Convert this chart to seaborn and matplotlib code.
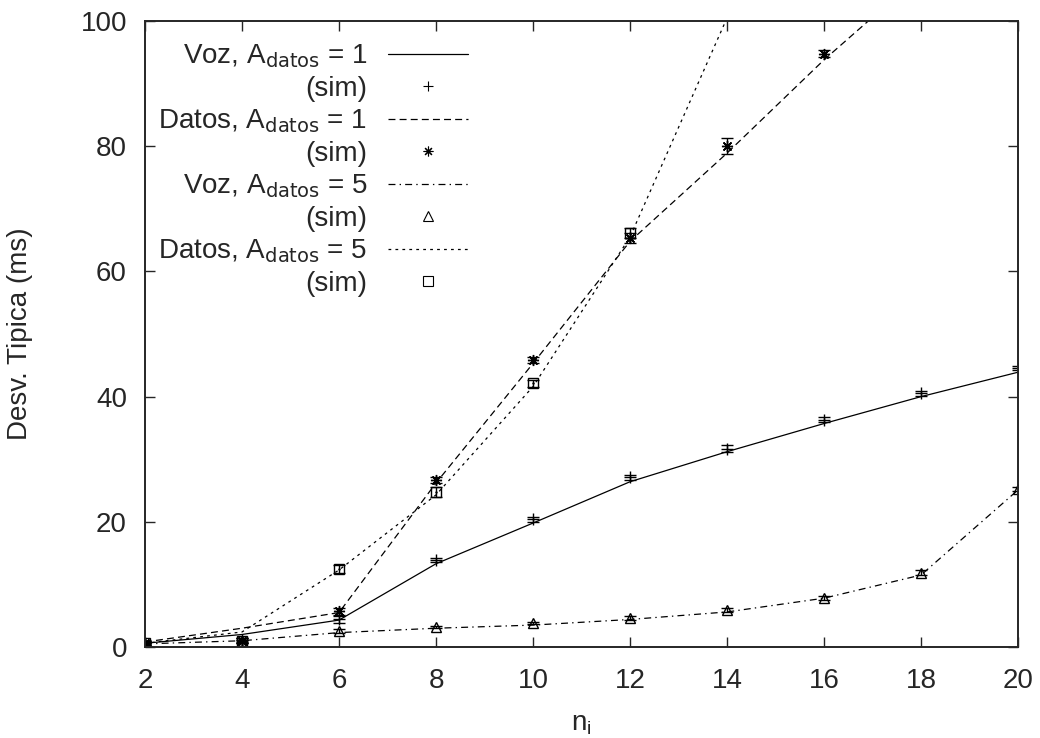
import matplotlib
matplotlib.use('Agg')  # no display
import matplotlib.pyplot as plt
from matplotlib.lines import Line2D
import seaborn as sns
import pandas as pd

# x values (number of users n_i)
n_i = [2, 4, 6, 8, 10, 12, 14, 16, 18, 20]

# model curves
voz_a1 = [0.6, 2.0, 4.3, 13.3, 19.8, 26.4, 31.2, 35.7, 40.0, 43.9]
datos_a1 = [0.8, 3.0, 5.5, 26.2, 45.3, 64.8, 78.9, 93.8, 107.4, 121.0]
voz_a5 = [0.5, 1.0, 2.3, 3.0, 3.5, 4.4, 5.6, 7.8, 11.5, 25.1]
datos_a5 = [0.6, 2.4, 12.3, 24.3, 41.6, 65.5, 100.5, 135.0, 170.0, 205.0]

# simulation points and error bars
sim_voz_a1 = [0.5, 1.1, 4.4, 13.9, 20.4, 27.1, 31.7, 36.3, 40.5, 44.6]
err_voz_a1 = [0.3, 0.3, 0.5, 0.3, 0.4, 0.4, 0.6, 0.4, 0.4, 0.3]
sim_datos_a1 = [0.7, 1.0, 5.7, 26.7, 45.8, 65.3, 80.0, 94.8]
err_datos_a1 = [0.3, 0.4, 0.6, 0.5, 0.5, 0.8, 1.3, 0.6]
sim_voz_a5 = [0.5, 0.9, 2.6, 3.2, 3.8, 4.6, 5.9, 7.8, 11.9, 25.2]
err_voz_a5 = [0.2, 0.2, 0.3, 0.2, 0.2, 0.3, 0.3, 0.3, 0.4, 0.3]
sim_datos_a5 = [0.6, 1.0, 12.5, 24.7, 42.1, 66.1]
err_datos_a5 = [0.3, 0.4, 0.6, 0.8, 0.6, 0.8]

labels = [r'Voz, A$_{\mathrm{datos}}$ = 1', r'Datos, A$_{\mathrm{datos}}$ = 1',
          r'Voz, A$_{\mathrm{datos}}$ = 5', r'Datos, A$_{\mathrm{datos}}$ = 5']

sns.set_style('ticks')
plt.rcParams['font.family'] = ['Liberation Sans', 'DejaVu Sans']
plt.rcParams['mathtext.default'] = 'regular'
plt.rcParams['lines.scale_dashes'] = False
plt.rcParams['font.size'] = 20

fig = plt.figure(figsize=(10.4, 7.38), dpi=100)
ax = fig.add_axes([0.1394, 0.1233, 0.8395, 0.8482])

lw = 0.9
styles = ['-', (0, (5, 3)), (0, (5, 3, 1, 3)), (0, (2, 3))]
markers = ['+', (8, 2, 0), '^', 's']
msizes = [8, 8, 7, 7]

df = pd.DataFrame({'n_i': n_i, labels[0]: voz_a1, labels[1]: datos_a1,
                   labels[2]: voz_a5, labels[3]: datos_a5})

sims = [(sim_voz_a1, err_voz_a1), (sim_datos_a1, err_datos_a1),
        (sim_voz_a5, err_voz_a5), (sim_datos_a5, err_datos_a5)]

handles = []
for i, lab in enumerate(labels):
    sns.lineplot(data=df, x='n_i', y=lab, ax=ax, color='black', lw=lw,
                 linestyle=styles[i])
    ys, es = sims[i]
    xs = n_i[:len(ys)]
    ax.errorbar(xs, ys, yerr=es, fmt='none', ecolor='black', elinewidth=1.0,
                capsize=4, capthick=1.0)
    ax.plot(xs, ys, linestyle='none', marker=markers[i], ms=msizes[i],
            mfc='none', mec='black', mew=1.0)
    if i == 3:
        ax.plot(xs, ys, linestyle='none', marker='.', ms=1.5, color='black')
    handles.append(Line2D([], [], color='black', lw=lw, linestyle=styles[i]))
    handles.append(Line2D([], [], linestyle='none', marker=markers[i],
                          ms=7, mfc='none', mec='black', mew=0.8))

leg_labels = []
for lab in labels:
    leg_labels += [lab, '(sim)']

ax.legend(handles, leg_labels, loc='upper right', bbox_to_anchor=(0.378, 0.977),
          markerfirst=False, frameon=False, handlelength=2.88,
          handletextpad=0.75, labelspacing=0.21, borderaxespad=0.0,
          borderpad=0.25, fontsize=20)

ax.set_xlim(2, 20)
ax.set_ylim(0, 100)
ax.set_xticks(range(2, 21, 2))
ax.set_yticks(range(0, 101, 20))
ax.tick_params(direction='in', length=7, width=1, top=True, right=True,
               labelsize=20)
ax.tick_params(axis='x', pad=15)
ax.tick_params(axis='y', pad=13)
for sp in ax.spines.values():
    sp.set_visible(True)
    sp.set_linewidth(1.4)
ax.set_xlabel(r'n$_i$', fontsize=20, labelpad=12)
ax.set_ylabel('Desv. Tipica (ms)', fontsize=20, labelpad=34)

fig.savefig('out.png', dpi=100)
